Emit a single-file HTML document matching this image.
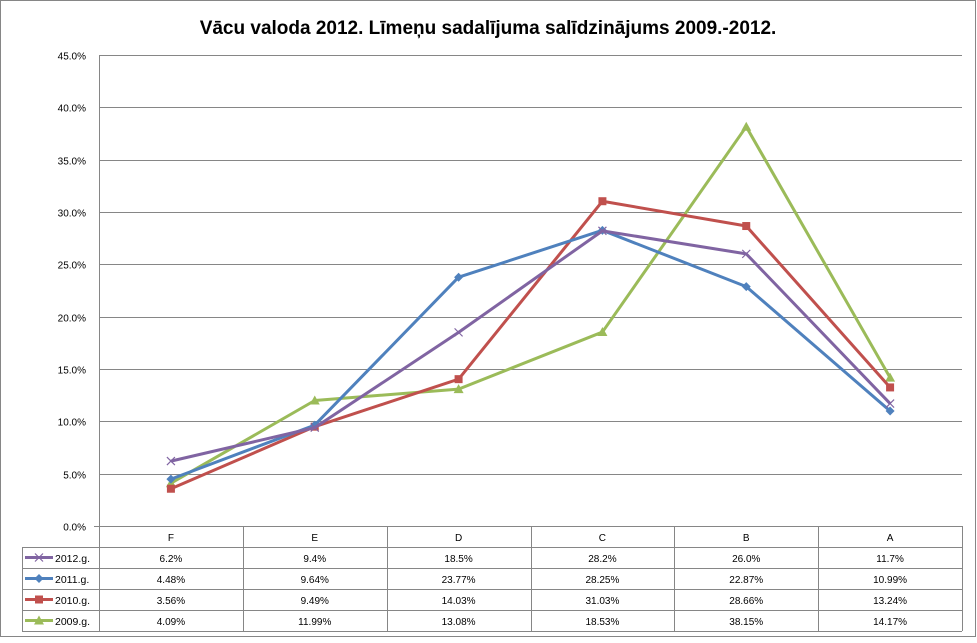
<!DOCTYPE html>
<html><head><meta charset="utf-8"><style>
body{margin:0;background:#fff;font-family:"Liberation Sans",sans-serif}
svg text{font-family:"Liberation Sans",sans-serif}
</style></head><body>
<svg id="c" width="977" height="638" xmlns="http://www.w3.org/2000/svg">
<rect x="0.5" y="0.5" width="975" height="636" fill="#fff" stroke="#868686"/>
<text x="488" y="34" text-anchor="middle" font-size="19" font-weight="bold">Vācu valoda 2012. Līmeņu sadalījuma salīdzinājums 2009.-2012.</text>
<g id="grid"></g><g id="tbl"></g><g id="series"></g>
</svg>
<script>
const categories=["F","E","D","C","B","A"];
const seriesNames=["2012.g.","2011.g.","2010.g.","2009.g."];
const s2012=[6.2,9.4,18.5,28.2,26.0,11.7];
const s2011=[4.48,9.64,23.77,28.25,22.87,10.99];
const s2010=[3.56,9.49,14.03,31.03,28.66,13.24];
const s2009=[4.09,11.99,13.08,18.53,38.15,14.17];
const labels2012=["6.2%","9.4%","18.5%","28.2%","26.0%","11.7%"];
const labels2011=["4.48%","9.64%","23.77%","28.25%","22.87%","10.99%"];
const labels2010=["3.56%","9.49%","14.03%","31.03%","28.66%","13.24%"];
const labels2009=["4.09%","11.99%","13.08%","18.53%","38.15%","14.17%"];
const yTicks=[0,5,10,15,20,25,30,35,40,45];
const colors=["#8064a2","#4f81bd","#c0504d","#9bbb59"];
const markers=["x","diamond","square","triangle"];
const allData=[s2012,s2011,s2010,s2009];
const allLabels=[labels2012,labels2011,labels2010,labels2009];
const L=99,R=962,T=55,B=526,NS="http://www.w3.org/2000/svg";
const cw=(R-L)/categories.length;
const xs=i=>L+cw*(i+0.5);
const ys=v=>B-(v/45)*(B-T);
function mk(t,a,p){const e=document.createElementNS(NS,t);for(const k in a)e.setAttribute(k,a[k]);p.appendChild(e);return e;}
const g=document.getElementById('grid');
yTicks.forEach(v=>{const y=Math.round(ys(v))+0.5;
const l=mk('line',{x1:v===0?94:L,x2:R,y1:y,y2:y,stroke:v===0?'#868686':'#868686','stroke-width':1},g);


const t=mk('text',{x:86,y:y+4,'text-anchor':'end','font-size':10},g);t.textContent=v.toFixed(1)+'%';

});
const ya=mk('line',{x1:L+0.5,x2:L+0.5,y1:T,y2:631,stroke:'#868686'},g);


mk('line',{x1:R+0.5,x2:R+0.5,y1:B,y2:631,stroke:'#868686'},g);
// table
const tb=document.getElementById('tbl');
const rowY=[526,547,568,589,610,631];
for(let r=1;r<rowY.length;r++){mk('line',{x1:22,x2:R,y1:rowY[r]+0.5,y2:rowY[r]+0.5,stroke:'#868686'},tb);}
mk('line',{x1:22.5,x2:22.5,y1:547,y2:631,stroke:'#868686'},tb);
for(let i=1;i<categories.length;i++){const x=Math.round(L+cw*i)+0.5;mk('line',{x1:x,x2:x,y1:B,y2:631,stroke:'#868686'},tb);}
categories.forEach((c,i)=>{const t=mk('text',{x:xs(i),y:541,'text-anchor':'middle','font-size':10},tb);t.textContent=c;

});
function marker(p,k,x,y,col){
if(k==='x'){mk('path',{d:`M${x-4} ${y-4}L${x+4} ${y+4}M${x-4} ${y+4}L${x+4} ${y-4}`,stroke:col,'stroke-width':1.2,fill:'none'},p);}
else if(k==='diamond'){mk('path',{d:`M${x} ${y-4.5}L${x+4.5} ${y}L${x} ${y+4.5}L${x-4.5} ${y}Z`,fill:col},p);}
else if(k==='square'){mk('rect',{x:x-4,y:y-4,width:8,height:8,fill:col},p);}
else {mk('path',{d:`M${x} ${y-5}L${x+5} ${y+4}L${x-5} ${y+4}Z`,fill:col},p);}
}
seriesNames.forEach((n,s)=>{const y=rowY[s+1]+15;
const ly=rowY[s+1]+10.5;
mk('line',{x1:25,x2:53,y1:ly,y2:ly,stroke:colors[s],'stroke-width':3},tb);
marker(tb,markers[s],39,ly,colors[s]);
const t=mk('text',{x:55,y:y,'font-size':10.5},tb);t.textContent=n;


allLabels[s].forEach((lb,i)=>{const tt=mk('text',{x:xs(i),y:y,'text-anchor':'middle','font-size':10},tb);tt.textContent=lb;

});});
// series (draw 2009 first so 2012 on top? order as reference)
const sg=document.getElementById('series');
[3,2,1,0].forEach(s=>{const d=allData[s];const grp=mk('g',{},sg);


const pts=d.map((v,i)=>xs(i)+','+ys(v)).join(' ');
const pl=mk('polyline',{points:pts,fill:'none',stroke:colors[s],'stroke-width':3,'stroke-linejoin':'round'},grp);


d.forEach((v,i)=>marker(grp,markers[s],xs(i),ys(v),colors[s]));});
</script>
</body></html>
